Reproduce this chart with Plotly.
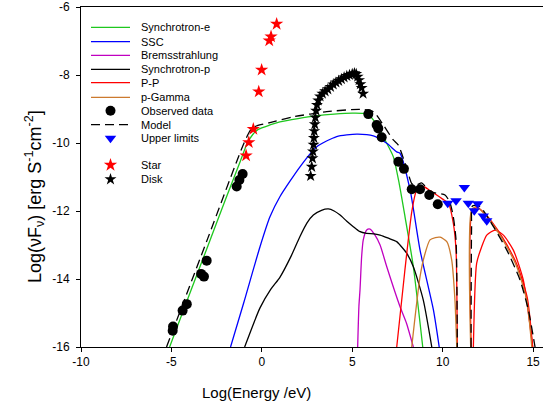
import plotly.graph_objects as go

# ---------------- data ----------------
sync_e_x = [-5.1, -4, -3, -2, -1.2, -0.8, -0.5, -0.2, 0.45, 1, 2, 3, 4, 5, 5.6, 6.0, 6.4, 6.8, 7.27, 7.6, 7.92, 8.38, 8.9]
sync_e_y = [-16, -14.45, -13.05, -11.65, -10.55, -10.0, -9.75, -9.6, -9.47, -9.38, -9.28, -9.2, -9.15, -9.12, -9.13, -9.22, -9.5, -9.9, -10.4, -11.2, -12.17, -13.64, -16]

ssc_x = [-1.73, -1.0, -0.1, 0.45, 1.0, 2.11, 3.04, 4.14, 5.25, 6.17, 6.91, 7.46, 7.64, 8.2, 8.75, 9.49, 9.81]
ssc_y = [-16, -14.7, -13.05, -12.17, -11.58, -10.70, -10.11, -9.81, -9.74, -9.79, -10.01, -10.26, -10.30, -11.38, -13.15, -14.91, -16]

brem_x = [5.3, 5.37, 5.43, 5.52, 5.61, 5.8, 5.98, 6.26, 6.54, 6.91, 7.64, 8.0, 8.38]
brem_y = [-16, -14.8, -14.32, -13.34, -12.85, -12.56, -12.53, -12.71, -13.0, -13.64, -14.81, -15.3, -16]

sync_p_x = [-0.95, -0.1, 0.5, 1.0, 1.6, 2.11, 2.5, 2.85, 3.3, 3.68, 4.0, 4.33, 4.7, 5.06, 5.4, 5.8, 6.2, 6.54, 7.0, 7.46, 7.64, 8.01, 8.38, 8.93, 9.4]
sync_p_y = [-16, -14.85, -14.3, -13.95, -13.35, -12.75, -12.35, -12.12, -11.98, -11.94, -12.0, -12.12, -12.3, -12.46, -12.6, -12.66, -12.67, -12.71, -12.8, -12.9, -13.0, -13.24, -13.64, -14.62, -16]

pp_x = [7.46, 7.9, 8.3, 8.57, 8.93, 9.3, 9.67, 10.0, 10.32, 10.59, 10.74, 10.81, None,
        11.70, 11.88, 12.16, 12.44, 12.9, 13.36, 13.91, 14.46, 14.98, None,
        11.58, 11.63, 11.92, 12.47, 13.03, 13.58, 14.13, 14.68, 14.98]
pp_y = [-16, -13.8, -12.0, -11.38, -11.28, -11.4, -11.53, -11.65, -11.77, -12.36, -13.15, -16, None,
        -16, -13.54, -13.05, -12.71, -12.56, -12.71, -13.15, -14.03, -16, None,
        -16, -12.0, -11.9, -12.15, -12.55, -13.02, -13.6, -14.55, -16]

pgam_x = [8.29, 8.75, 9.0, 9.3, 9.6, 9.86, 10.23, 10.5, 10.68, 10.78, None,
          11.55, 11.6, 11.88, 12.44, 12.99, 13.55, 14.1, 14.65, 14.93]
pgam_y = [-16, -13.93, -13.3, -12.85, -12.78, -12.77, -12.9, -13.44, -14.62, -16, None,
          -16, -11.97, -11.87, -12.17, -12.56, -13.05, -13.64, -14.62, -16]

model_x = [-5.27, -3, -1, -0.6, -0.3, 0.45, 1.74, 3.59, 5.43, 6.17, 6.72, 7.27, 7.55, 8.01, 8.29, 8.5, 8.84, 9.0, 9.3, 10.13, 10.4, 10.59, 10.74, 10.81, None,
           11.57, 11.6, 11.65, 12.07, 12.81, 13.55, 14.28, 14.74, 15.11]
model_y = [-16, -12.82, -10.02, -9.6, -9.5, -9.40, -9.23, -9.08, -9.01, -9.08, -9.47, -9.91, -10.06, -10.74, -11.19, -11.25, -11.17, -11.25, -11.43, -11.53, -11.75, -12.17, -12.85, -16, None,
           -16, -12.5, -11.85, -11.87, -12.46, -13.15, -14.03, -14.91, -16]

obs_x = [-4.91, -4.93, -4.38, -4.15, -3.36, -3.20, -3.05, -1.39, -1.24, -1.06, 5.89, 6.35, 6.44, 6.63, 7.55, 7.86, 8.29, 8.75, 9.26, 9.73]
obs_y = [-15.40, -15.52, -14.93, -14.74, -13.85, -13.93, -13.46, -11.28, -11.09, -10.91, -9.15, -9.47, -9.57, -9.83, -10.55, -10.76, -11.36, -11.36, -11.53, -11.80]

ul_x = [10.28, 10.74, 11.20, 11.42, 11.75, 11.94, 12.25, 12.44]
ul_y = [-11.77, -11.70, -11.31, -11.77, -11.99, -11.79, -12.15, -12.29]

star_x = [0.82, 0.51, 0.41, -0.01, -0.17, -0.47, -0.72, -0.87]
star_y = [-6.5, -6.87, -6.99, -7.85, -8.49, -9.59, -9.98, -10.37]

disk_x = [2.70, 2.76, 2.80, 2.83, 2.86, 2.88, 2.90, 2.93, 2.96, 3.00, 3.05, 3.12, 3.22, 3.35, 3.5, 3.65, 3.8, 3.95, 4.1, 4.25, 4.4, 4.55, 4.7, 4.85, 5.0, 5.12, 5.22, 5.3, 5.38, 5.45, 5.52, 5.6]
disk_y = [-10.97, -10.70, -10.45, -10.25, -10.05, -9.85, -9.65, -9.45, -9.25, -9.05, -8.88, -8.75, -8.63, -8.55, -8.48, -8.42, -8.35, -8.28, -8.22, -8.17, -8.12, -8.07, -8.03, -8.0, -7.97, -7.95, -7.97, -8.05, -8.15, -8.27, -8.38, -8.55]

x_ticks = [-10, -5, 0, 5, 10, 15]
y_ticks = [-16, -14, -12, -10, -8, -6]

legend_labels = ["Synchrotron-e", "SSC", "Bremsstrahlung", "Synchrotron-p", "P-P", "p-Gamma",
                 "Observed data", "Model", "Upper limits", "Star", "Disk"]

# ---------------- styles ----------------
GREEN = "#1ec81e"
BLUE = "#0000ff"
MAG = "#c000c0"
BLACK = "#000000"
RED = "#ff0000"
ORANGE = "#cc7a2e"
FONT = "Liberation Sans, Arial, sans-serif"
LW = 1.3

fig = go.Figure()

def line(x, y, color, dash="solid", shape="spline"):
    fig.add_trace(go.Scatter(x=x, y=y, mode="lines", line=dict(color=color, width=LW, dash=dash, shape=shape, smoothing=0.6),
                             showlegend=False, hoverinfo="skip", connectgaps=False))

line(sync_e_x, sync_e_y, GREEN)
line(ssc_x, ssc_y, BLUE)
line(brem_x, brem_y, MAG)
line(sync_p_x, sync_p_y, BLACK)
line(pp_x, pp_y, RED)
line(pgam_x, pgam_y, ORANGE)
line(model_x, model_y, BLACK, dash="9px,5px")

fig.add_trace(go.Scatter(x=obs_x, y=obs_y, mode="markers", marker=dict(symbol="circle", size=10, color=BLACK), showlegend=False))
fig.add_trace(go.Scatter(x=ul_x, y=ul_y, mode="markers", marker=dict(symbol="triangle-down", size=10, color=BLUE), showlegend=False))
fig.add_trace(go.Scatter(x=star_x, y=star_y, mode="markers", marker=dict(symbol="star", size=10, color=RED), showlegend=False))
fig.add_trace(go.Scatter(x=disk_x, y=disk_y, mode="markers", marker=dict(symbol="star", size=9, color=BLACK), showlegend=False))

# ---------------- manual legend (pixel coords on overlay axes) ----------------
PW, PH = 462, 340
rows = [20.3, 34.7, 48.3, 62.3, 75.7, 90.3, 103.7, 117.7, 131.3, 158, 172.3]
lx0, lx1, lxm, ltx = 10, 49, 29.5, 58
line_items = [(GREEN, "solid"), (BLUE, "solid"), (MAG, "solid"), (BLACK, "solid"), (RED, "solid"), (ORANGE, "solid")]
for i, (c, d) in enumerate(line_items):
    fig.add_trace(go.Scatter(x=[lx0, lx1], y=[rows[i], rows[i]], xaxis="x2", yaxis="y2", mode="lines",
                             line=dict(color=c, width=LW, dash=d), showlegend=False, hoverinfo="skip"))
fig.add_trace(go.Scatter(x=[lx0, lx1], y=[rows[7], rows[7]], xaxis="x2", yaxis="y2", mode="lines",
                         line=dict(color=BLACK, width=LW, dash="9px,5px"), showlegend=False, hoverinfo="skip"))
fig.add_trace(go.Scatter(x=[lxm], y=[rows[6]], xaxis="x2", yaxis="y2", mode="markers",
                         marker=dict(symbol="circle", size=10, color=BLACK), showlegend=False, hoverinfo="skip"))
fig.add_trace(go.Scatter(x=[lxm], y=[rows[8]], xaxis="x2", yaxis="y2", mode="markers",
                         marker=dict(symbol="triangle-down", size=10, color=BLUE), showlegend=False, hoverinfo="skip"))
fig.add_trace(go.Scatter(x=[lxm], y=[rows[9]], xaxis="x2", yaxis="y2", mode="markers",
                         marker=dict(symbol="star", size=10, color=RED), showlegend=False, hoverinfo="skip"))
fig.add_trace(go.Scatter(x=[lxm], y=[rows[10]], xaxis="x2", yaxis="y2", mode="markers",
                         marker=dict(symbol="star", size=9, color=BLACK), showlegend=False, hoverinfo="skip"))

annotations = []
for lab, ry in zip(legend_labels, rows):
    annotations.append(dict(x=ltx, y=ry, xref="x2", yref="y2", text=lab, showarrow=False,
                            xanchor="left", yanchor="middle", font=dict(family=FONT, size=11, color="black")))

annotations.append(dict(x=(34 - 81) / PW, y=(347 - 197) / PH, xref="paper", yref="paper",
                        text="Log(νF<sub>ν</sub>) [erg S<sup>-1</sup>cm<sup>-2</sup>]", textangle=-90,
                        showarrow=False, xanchor="center", yanchor="middle",
                        font=dict(family=FONT, size=18, color="black")))
annotations.append(dict(x=(256 - 81) / PW, y=(347 - 392) / PH, xref="paper", yref="paper",
                        text="Log(Energy /eV)", showarrow=False, xanchor="center", yanchor="middle",
                        font=dict(family=FONT, size=15, color="black")))

fig.update_layout(
    width=544, height=408,
    margin=dict(l=81, r=1, t=7, b=61),
    paper_bgcolor="white", plot_bgcolor="white",
    font=dict(family=FONT, size=12, color="black"),
    showlegend=False,
    xaxis=dict(range=[-10, 15.55], tickvals=x_ticks, ticktext=[str(v) for v in x_ticks],
               showline=True, linecolor="black", linewidth=1, mirror=True,
               ticks="outside", ticklen=4, tickcolor="black", showgrid=False, zeroline=False,
               tickfont=dict(size=12)),
    yaxis=dict(range=[-16, -6], tickvals=y_ticks, ticktext=[str(v) for v in y_ticks],
               showline=True, linecolor="black", linewidth=1,
               ticks="outside", ticklen=4, tickcolor="black", showgrid=False, zeroline=False,
               tickfont=dict(size=12), ticklabelstandoff=4),
    xaxis2=dict(range=[0, PW], overlaying="x", visible=False, fixedrange=True),
    yaxis2=dict(range=[PH, 0], overlaying="y", visible=False, fixedrange=True),
    annotations=annotations,
)

fig.write_html("out.html")
